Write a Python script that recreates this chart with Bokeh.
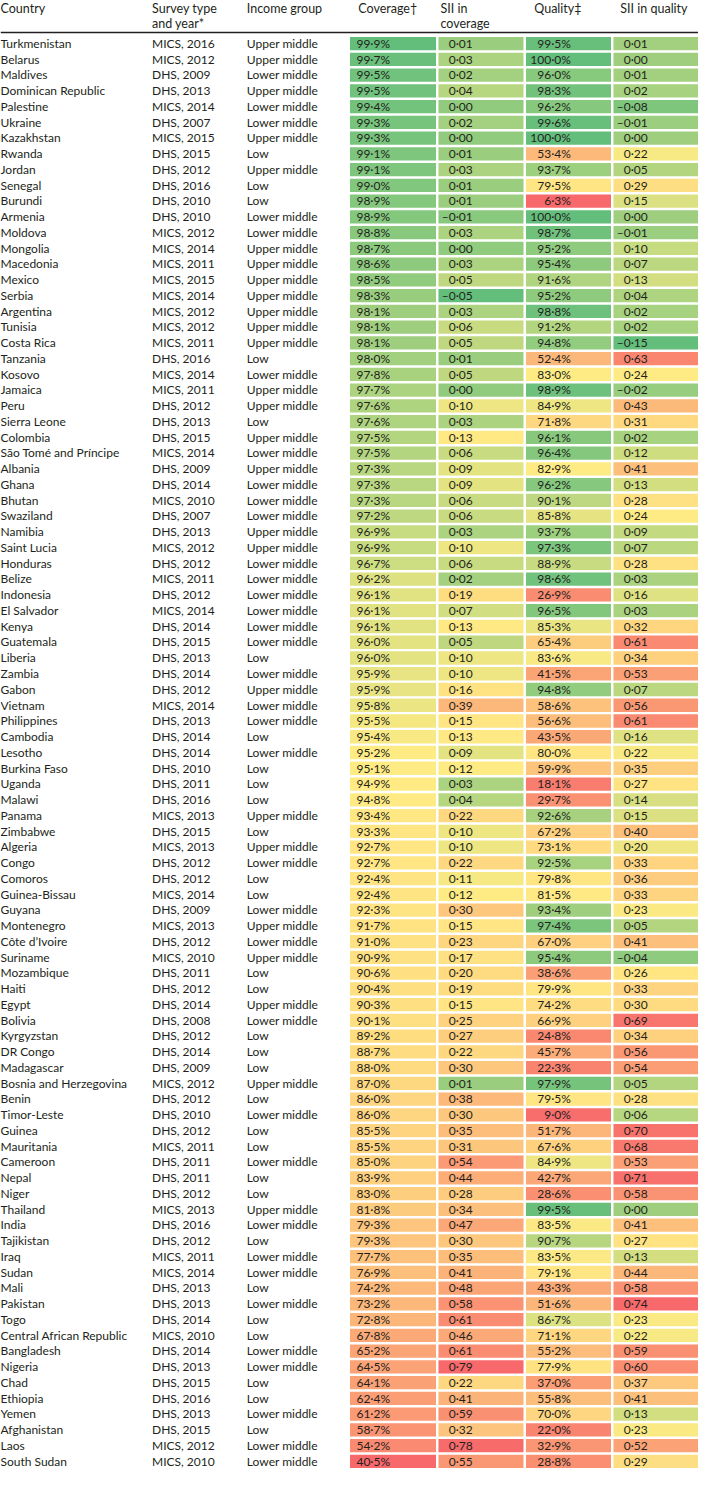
import numpy as np
from bokeh.plotting import figure
from bokeh.models import Range1d, ColumnDataSource
from bokeh.embed import file_html
from bokeh.resources import INLINE
from bokeh.core.properties import value

countries = [
    "Turkmenistan", "Belarus", "Maldives", "Dominican Republic", "Palestine", "Ukraine", "Kazakhstan",
    "Rwanda", "Jordan", "Senegal", "Burundi", "Armenia", "Moldova", "Mongolia", "Macedonia", "Mexico",
    "Serbia", "Argentina", "Tunisia", "Costa Rica", "Tanzania", "Kosovo", "Jamaica", "Peru",
    "Sierra Leone", "Colombia", "São Tomé and Príncipe", "Albania", "Ghana", "Bhutan", "Swaziland",
    "Namibia", "Saint Lucia", "Honduras", "Belize", "Indonesia", "El Salvador", "Kenya", "Guatemala",
    "Liberia", "Zambia", "Gabon", "Vietnam", "Philippines", "Cambodia", "Lesotho", "Burkina Faso",
    "Uganda", "Malawi", "Panama", "Zimbabwe", "Algeria", "Congo", "Comoros", "Guinea-Bissau", "Guyana",
    "Montenegro", "Côte d’Ivoire", "Suriname", "Mozambique", "Haiti", "Egypt", "Bolivia", "Kyrgyzstan",
    "DR Congo", "Madagascar", "Bosnia and Herzegovina", "Benin", "Timor-Leste", "Guinea", "Mauritania",
    "Cameroon", "Nepal", "Niger", "Thailand", "India", "Tajikistan", "Iraq", "Sudan", "Mali", "Pakistan",
    "Togo", "Central African Republic", "Bangladesh", "Nigeria", "Chad", "Ethiopia", "Yemen",
    "Afghanistan", "Laos", "South Sudan",
]

surveys = [
    "MICS, 2016", "MICS, 2012", "DHS, 2009", "DHS, 2013", "MICS, 2014", "DHS, 2007", "MICS, 2015",
    "DHS, 2015", "DHS, 2012", "DHS, 2016", "DHS, 2010", "DHS, 2010", "MICS, 2012", "MICS, 2014",
    "MICS, 2011", "MICS, 2015", "MICS, 2014", "MICS, 2012", "MICS, 2012", "MICS, 2011", "DHS, 2016",
    "MICS, 2014", "MICS, 2011", "DHS, 2012", "DHS, 2013", "DHS, 2015", "MICS, 2014", "DHS, 2009",
    "DHS, 2014", "MICS, 2010", "DHS, 2007", "DHS, 2013", "MICS, 2012", "DHS, 2012", "MICS, 2011",
    "DHS, 2012", "MICS, 2014", "DHS, 2014", "DHS, 2015", "DHS, 2013", "DHS, 2014", "DHS, 2012",
    "MICS, 2014", "DHS, 2013", "DHS, 2014", "DHS, 2014", "DHS, 2010", "DHS, 2011", "DHS, 2016",
    "MICS, 2013", "DHS, 2015", "MICS, 2013", "DHS, 2012", "DHS, 2012", "MICS, 2014", "DHS, 2009",
    "MICS, 2013", "DHS, 2012", "MICS, 2010", "DHS, 2011", "DHS, 2012", "DHS, 2014", "DHS, 2008",
    "DHS, 2012", "DHS, 2014", "DHS, 2009", "MICS, 2012", "DHS, 2012", "DHS, 2010", "DHS, 2012",
    "MICS, 2011", "DHS, 2011", "DHS, 2011", "DHS, 2012", "MICS, 2013", "DHS, 2016", "DHS, 2012",
    "MICS, 2011", "MICS, 2014", "DHS, 2013", "DHS, 2013", "DHS, 2014", "MICS, 2010", "DHS, 2014",
    "DHS, 2013", "DHS, 2015", "DHS, 2016", "DHS, 2013", "DHS, 2015", "MICS, 2012", "MICS, 2010",
]

U, L, LO = "Upper middle", "Lower middle", "Low"
income = [
    U, U, L, U, L, L, U, LO, U, LO, LO, L, L, U, U, U, U, U, U, U, LO, L, U, U, LO, U, L, U, L, L, L,
    U, U, L, L, L, L, L, L, LO, L, U, L, L, LO, L, LO, LO, LO, U, LO, U, L, LO, LO, L, U, L, U, LO,
    LO, U, L, LO, LO, LO, U, LO, L, LO, LO, L, LO, LO, U, L, LO, L, L, LO, L, LO, LO, L, L, LO, LO,
    L, LO, L, L,
]

coverage = [
    99.9, 99.7, 99.5, 99.5, 99.4, 99.3, 99.3, 99.1, 99.1, 99.0, 98.9, 98.9, 98.8, 98.7, 98.6, 98.5,
    98.3, 98.1, 98.1, 98.1, 98.0, 97.8, 97.7, 97.6, 97.6, 97.5, 97.5, 97.3, 97.3, 97.3, 97.2, 96.9,
    96.9, 96.7, 96.2, 96.1, 96.1, 96.1, 96.0, 96.0, 95.9, 95.9, 95.8, 95.5, 95.4, 95.2, 95.1, 94.9,
    94.8, 93.4, 93.3, 92.7, 92.7, 92.4, 92.4, 92.3, 91.7, 91.0, 90.9, 90.6, 90.4, 90.3, 90.1, 89.2,
    88.7, 88.0, 87.0, 86.0, 86.0, 85.5, 85.5, 85.0, 83.9, 83.0, 81.8, 79.3, 79.3, 77.7, 76.9, 74.2,
    73.2, 72.8, 67.8, 65.2, 64.5, 64.1, 62.4, 61.2, 58.7, 54.2, 40.5,
]

sii_coverage = [
    0.01, 0.03, 0.02, 0.04, 0.00, 0.02, 0.00, 0.01, 0.03, 0.01, 0.01, -0.01, 0.03, 0.00, 0.03, 0.05,
    -0.05, 0.03, 0.06, 0.05, 0.01, 0.05, 0.00, 0.10, 0.03, 0.13, 0.06, 0.09, 0.09, 0.06, 0.06, 0.03,
    0.10, 0.06, 0.02, 0.19, 0.07, 0.13, 0.05, 0.10, 0.10, 0.16, 0.39, 0.15, 0.13, 0.09, 0.12, 0.03,
    0.04, 0.22, 0.10, 0.10, 0.22, 0.11, 0.12, 0.30, 0.15, 0.23, 0.17, 0.20, 0.19, 0.15, 0.25, 0.27,
    0.22, 0.30, 0.01, 0.38, 0.30, 0.35, 0.31, 0.54, 0.44, 0.28, 0.34, 0.47, 0.30, 0.35, 0.41, 0.48,
    0.58, 0.61, 0.46, 0.61, 0.79, 0.22, 0.41, 0.59, 0.32, 0.78, 0.55,
]

quality = [
    99.5, 100.0, 96.0, 98.3, 96.2, 99.6, 100.0, 53.4, 93.7, 79.5, 6.3, 100.0, 98.7, 95.2, 95.4, 91.6,
    95.2, 98.8, 91.2, 94.8, 52.4, 83.0, 98.9, 84.9, 71.8, 96.1, 96.4, 82.9, 96.2, 90.1, 85.8, 93.7,
    97.3, 88.9, 98.6, 26.9, 96.5, 85.3, 65.4, 83.6, 41.5, 94.8, 58.6, 56.6, 43.5, 80.0, 59.9, 18.1,
    29.7, 92.6, 67.2, 73.1, 92.5, 79.8, 81.5, 93.4, 97.4, 67.0, 95.4, 38.6, 79.9, 74.2, 66.9, 24.8,
    45.7, 22.3, 97.9, 79.5, 9.0, 51.7, 67.6, 84.9, 42.7, 28.6, 99.5, 83.5, 90.7, 83.5, 79.1, 43.3,
    51.6, 86.7, 71.1, 55.2, 77.9, 37.0, 55.8, 70.0, 22.0, 32.9, 28.8,
]

sii_quality = [
    0.01, 0.00, 0.01, 0.02, -0.08, -0.01, 0.00, 0.22, 0.05, 0.29, 0.15, 0.00, -0.01, 0.10, 0.07, 0.13,
    0.04, 0.02, 0.02, -0.15, 0.63, 0.24, -0.02, 0.43, 0.31, 0.02, 0.12, 0.41, 0.13, 0.28, 0.24, 0.09,
    0.07, 0.28, 0.03, 0.16, 0.03, 0.32, 0.61, 0.34, 0.53, 0.07, 0.56, 0.61, 0.16, 0.22, 0.35, 0.27,
    0.14, 0.15, 0.40, 0.20, 0.33, 0.36, 0.33, 0.23, 0.05, 0.41, -0.04, 0.26, 0.33, 0.30, 0.69, 0.34,
    0.56, 0.54, 0.05, 0.28, 0.06, 0.70, 0.68, 0.53, 0.71, 0.58, 0.00, 0.41, 0.27, 0.13, 0.44, 0.58,
    0.74, 0.23, 0.22, 0.59, 0.60, 0.37, 0.41, 0.13, 0.23, 0.52, 0.29,
]

header_lines = [
    ["Country"], ["Survey type", "and year*"], ["Income group"], ["Coverage†"],
    ["SII in", "coverage"], ["Quality‡"], ["SII in quality"],
]

# ---------------------------------------------------------------- styling
FONT = "Lato"
FS = "12px"
TXT = "#231f20"
RED = np.array([248, 105, 107])
YEL = np.array([255, 235, 132])
GRN = np.array([99, 190, 123])


def scale_colors(vals, higher_better):
    v = np.asarray(vals, float)
    lo, mid, hi = v.min(), np.percentile(v, 50), v.max()
    c_lo, c_hi = (RED, GRN) if higher_better else (GRN, RED)
    out = []
    for x in v:
        if x <= mid:
            t = (x - lo) / (mid - lo) if mid > lo else 1.0
            c = c_lo + (YEL - c_lo) * t
        else:
            t = (x - mid) / (hi - mid)
            c = YEL + (c_hi - YEL) * t
        out.append("#%02x%02x%02x" % tuple(int(round(k)) for k in c))
    return out


def fmt_pct(v):
    return f"{v:.1f}%".replace(".", "·")


def fmt_sii(v):
    s = f"{abs(v):.2f}".replace(".", "·")
    return ("–" if v < 0 else "") + s


n = len(countries)
rows = np.arange(n)
ROW0, PITCH = 43.5, 16.0
yc = ROW0 + PITCH * rows

p = figure(width=698, height=1474, x_range=Range1d(0, 714), y_range=Range1d(1497, 0),
           output_backend="svg", toolbar_location=None, min_border=0,
           x_axis_type=None, y_axis_type=None)
p.grid.visible = False
p.outline_line_color = None
p.background_fill_color = "white"
p.border_fill_color = "white"

# header
hx = [0, 155, 252, 366, 450, 546, 634]
for x, lines in zip(hx, header_lines):
    for k, t in enumerate(lines):
        p.text(x=[x], y=[8.5 + 14.5 * k], text=[t], text_font=value(FONT), text_font_size="12.5px",
               text_color=TXT, text_baseline="middle", text_align="left")
p.segment(x0=[0], x1=[714], y0=[32.5], y1=[32.5], line_color="#231f20", line_width=1.6)

# plain text columns
src = ColumnDataSource(dict(y=yc, country=countries, survey=surveys, income=income))
for x, field in [(0, "country"), (155, "survey"), (252, "income")]:
    p.text(x=x, y="y", text=field, source=src, text_font=value(FONT), text_font_size=FS,
           text_color=TXT, text_baseline="middle", text_align="left")

# coloured columns
cols = [
    (coverage, True, fmt_pct, 357.5, 445.5, 41),
    (sii_coverage, False, fmt_sii, 448.0, 535.0, 35),
    (quality, True, fmt_pct, 537.5, 624.5, 46),
    (sii_quality, False, fmt_sii, 627.0, 714.0, 35),
]
for vals, hb, fmt, left, right, tx in cols:
    cs = ColumnDataSource(dict(
        top=yc - 6.5, bottom=yc + 7.0, color=scale_colors(vals, hb),
        label=[fmt(v) for v in vals], y=yc,
    ))
    p.quad(left=left, right=right, top="top", bottom="bottom", fill_color="color",
           line_color=None, source=cs)
    p.text(x=left + tx, y="y", text="label", source=cs, text_font=value(FONT), text_font_size=FS,
           text_color=TXT, text_baseline="middle", text_align="right")

open("out.html", "w").write(file_html(p, INLINE))
